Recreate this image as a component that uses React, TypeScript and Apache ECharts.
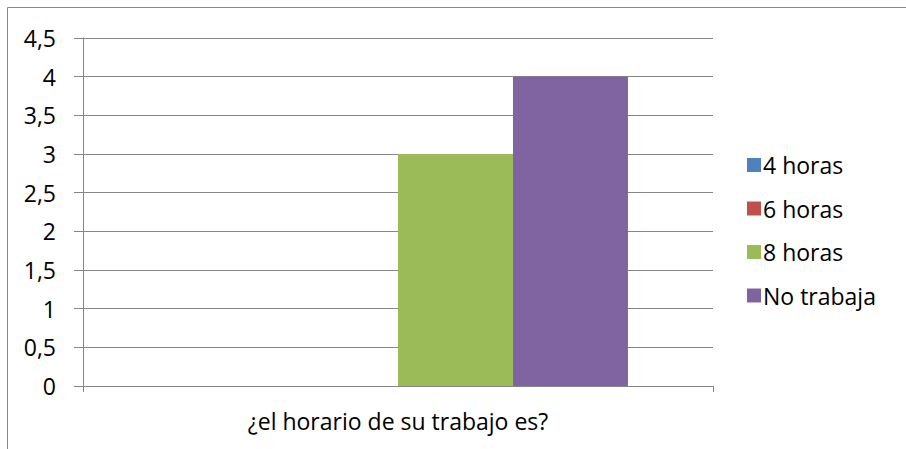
import React, { useEffect, useRef } from "react";
import * as echarts from "echarts";

const categories = ["¿el horario de su trabajo es?"];
const seriesNames = ["4 horas", "6 horas", "8 horas", "No trabaja"];
const values4h = [0];
const values6h = [0];
const values8h = [3];
const valuesNo = [4];
const colors = ["#4F81BD", "#C0504D", "#9BBB59", "#8064A2"];

export default function App() {
  const ref = useRef<HTMLDivElement>(null);
  useEffect(() => {
    document.body.style.margin = "0";
    const chart = echarts.init(ref.current!, null, { renderer: "svg" });
    const font = "'Open Sans', 'Noto Sans', sans-serif";
    const data = [values4h, values6h, values8h, valuesNo];
    chart.setOption({
      animation: false,
      backgroundColor: "#ffffff",
      textStyle: { fontFamily: font },
      graphic: [
        {
          type: "rect",
          shape: { x: 7.5, y: 7.5, width: 1200, height: 1200 },
          style: { fill: "none", stroke: "#878787", lineWidth: 1 },
          silent: true,
        },
      ],
      grid: { left: 83, right: 193, top: 38, bottom: 63 },
      legend: {
        orient: "vertical",
        left: 742,
        top: 148.5,
        itemWidth: 14,
        itemHeight: 14,
        itemGap: 20.5,
        icon: "rect",
        textStyle: { fontFamily: font, fontSize: 23, color: "#000", lineHeight: 23, padding: [0, 0, 0, -3] },
        data: seriesNames,
      },
      xAxis: {
        type: "category",
        data: categories,
        axisLine: { lineStyle: { color: "#868686", width: 1 } },
        axisTick: { show: true, length: 6, lineStyle: { color: "#868686" } },
        axisLabel: { margin: 23.5, fontSize: 23, color: "#000", fontFamily: font },
      },
      yAxis: {
        type: "value",
        min: 0,
        max: 4.5,
        interval: 0.5,
        axisLine: { show: true, lineStyle: { color: "#868686", width: 1 } },
        axisTick: { show: true, length: 9, lineStyle: { color: "#868686" } },
        splitLine: { lineStyle: { color: "#868686", width: 1 } },
        axisLabel: {
          margin: 27,
          fontSize: 23,
          color: "#000",
          fontFamily: font,
          formatter: (v: number) => String(v).replace(".", ","),
        },
      },
      series: seriesNames.map((name, i) => ({
        name,
        type: "bar",
        data: data[i],
        itemStyle: { color: colors[i] },
        barGap: "0%",
        barCategoryGap: "27%",
      })),
    });
    return () => chart.dispose();
  }, []);
  return <div ref={ref} style={{ width: 906, height: 449 }} />;
}
